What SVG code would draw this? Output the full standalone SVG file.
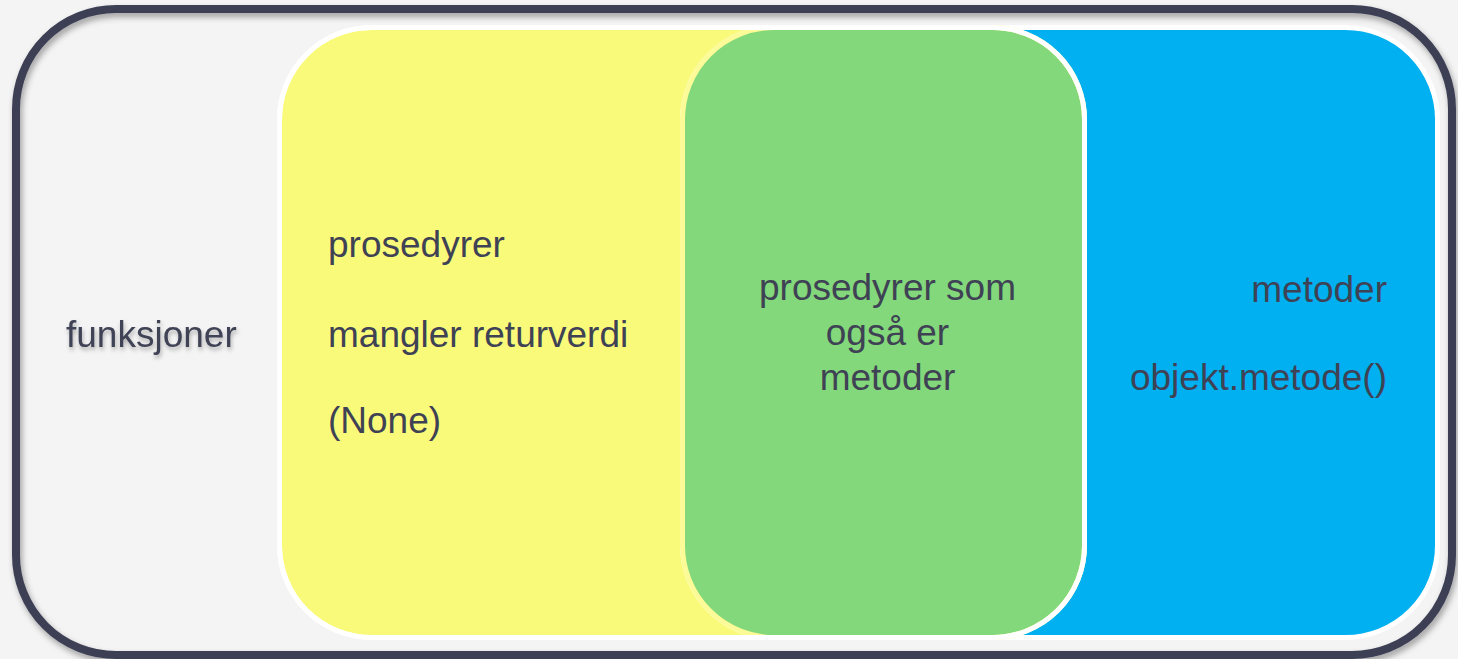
<svg xmlns="http://www.w3.org/2000/svg" width="1458" height="659" viewBox="0 0 1458 659">
<defs>
<filter id="sh" x="-5%" y="-5%" width="110%" height="115%">
<feDropShadow dx="2" dy="4" stdDeviation="3" flood-color="#000" flood-opacity="0.35"/>
</filter>
<filter id="tsh" x="-10%" y="-30%" width="120%" height="170%">
<feDropShadow dx="1" dy="3" stdDeviation="2" flood-color="#000" flood-opacity="0.3"/>
</filter>
</defs>
<style>
text{font-family:"Liberation Sans",Arial,sans-serif;font-size:37px;fill:#3F4254}
.mid{text-anchor:middle}
.end{text-anchor:end}
</style>
<rect width="1458" height="659" fill="#F4F4F4"/>
<g id="outer">
<rect x="16" y="9" width="1436" height="646" rx="100" ry="100" fill="none" stroke="#3E4155" stroke-width="8" filter="url(#sh)"/>
<text x="66" y="347" filter="url(#tsh)">funksjoner</text>
</g>
<g id="prosedyrer">
<rect x="279.5" y="27.5" width="805" height="610" rx="92" ry="92" fill="#FAFA7A" stroke="#FFFFFF" stroke-width="5"/>
</g>
<g id="metoder">
<rect x="682.5" y="27.5" width="755" height="610" rx="92" ry="92" fill="#00B0F0" stroke="#FFFFFF" stroke-width="5"/>
</g>
<g id="begge">
<rect x="682.5" y="27.5" width="402" height="610" rx="92" ry="92" fill="#82D87A" stroke="#FCFB98" stroke-width="5"/>
<rect x="279.5" y="27.5" width="805" height="610" rx="92" ry="92" fill="none" stroke="#FFFFFF" stroke-width="5"/>
</g>
<g id="connectors"></g>
<g id="labels">
<text x="328" y="257">prosedyrer</text>
<text x="328" y="347">mangler returverdi</text>
<text x="328" y="433">(None)</text>
<text class="mid" x="887.5" y="300">prosedyrer som</text>
<text class="mid" x="887.5" y="345">også er</text>
<text class="mid" x="887.5" y="390">metoder</text>
<text class="end" x="1387" y="302">metoder</text>
<text class="end" x="1387" y="390">objekt.metode()</text>
</g>
</svg>
